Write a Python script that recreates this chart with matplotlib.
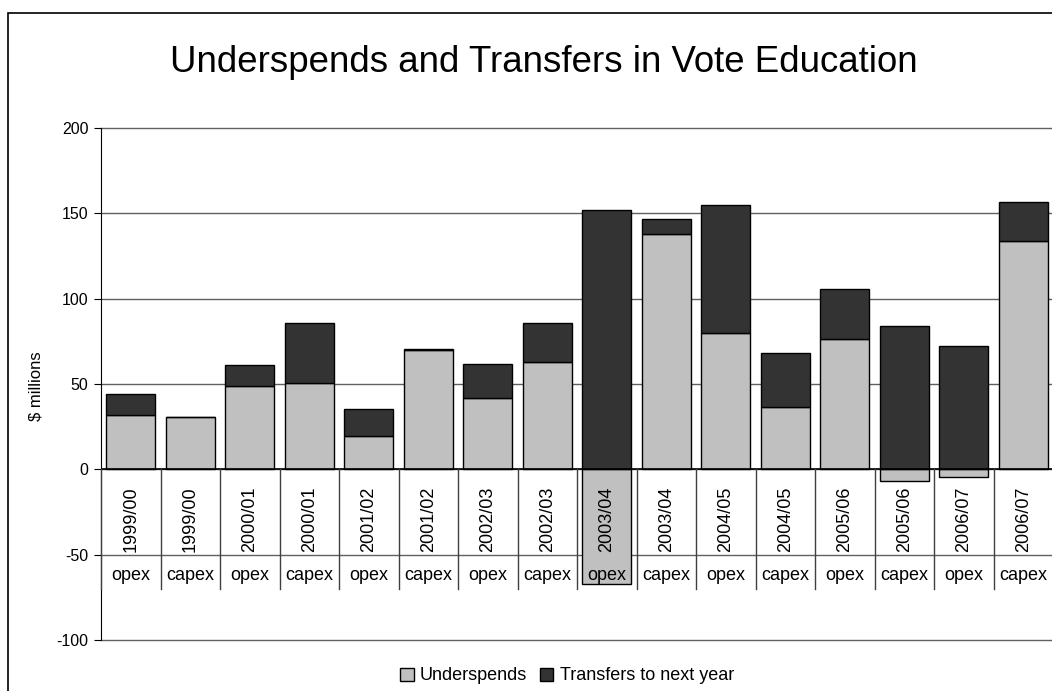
import numpy as np
import matplotlib
matplotlib.use("Agg")
import matplotlib.pyplot as plt
from matplotlib.patches import Rectangle, Patch

plt.rcParams["font.family"] = ["Liberation Sans", "DejaVu Sans"]
plt.rcParams["axes.unicode_minus"] = False

years = ["1999/00", "1999/00", "2000/01", "2000/01", "2001/02", "2001/02",
         "2002/03", "2002/03", "2003/04", "2003/04", "2004/05", "2004/05",
         "2005/06", "2005/06", "2006/07", "2006/07"]
kinds = ["opex", "capex"] * 8
underspends = [31.6, 30.8, 48.8, 50.7, 19.5, 69.8, 41.8, 62.8,
               -67.3, 137.7, 80.0, 36.5, 76.3, -6.6, -4.5, 134.0]
transfers = [12.7, 0.0, 12.1, 34.8, 15.6, 0.8, 20.2, 22.7,
             152.2, 9.2, 74.9, 31.6, 29.5, 83.9, 72.0, 22.7]

W, H = 1052, 691
fig = plt.figure(figsize=(W / 100, H / 100), dpi=100, facecolor="white")

# outer chart border (left/top visible, rest off-canvas)
fig.patches.append(Rectangle((8 / W, -0.1), 1.2, 1 - 13 / H + 0.1,
                             transform=fig.transFigure, fill=False,
                             ec="black", lw=1.2, zorder=0))

ax = fig.add_axes([101 / W, 1 - 640 / H, 952 / W, (640 - 128) / H])
x = np.arange(len(years))
us = np.array(underspends)
tr = np.array(transfers)

ax.bar(x, us, 0.83, color="#C0C0C0", edgecolor="black", lw=1, zorder=2)
ax.bar(x, tr, 0.83, bottom=np.maximum(us, 0), color="#333333",
       edgecolor="black", lw=1, zorder=2)

ax.set_xlim(-0.5, len(years) - 0.5)
ax.set_ylim(-100, 200)
ticks = np.arange(-100, 201, 50)
ax.set_yticks(ticks)
for t in ticks:
    ax.axhline(t, color="#606060", lw=1, zorder=1, clip_on=False)
ax.axhline(0, color="black", lw=1.2, zorder=3)
ax.set_xticks([])
for s in ["top", "right", "bottom"]:
    ax.spines[s].set_visible(False)
ax.spines["left"].set_color("black")
ax.tick_params(axis="y", direction="out", length=5, labelsize=11.5, pad=4)

# multi-level category labels
for i in range(len(years) + 1):
    ax.plot([i - 0.5, i - 0.5], [0, -70], color="#404040", lw=1, zorder=4,
            clip_on=False)
for i, (yr, kd) in enumerate(zip(years, kinds)):
    ax.text(i, -29, yr, rotation=90, ha="center", va="center",
            fontsize=13, zorder=5)
    ax.text(i, -62.5, kd, ha="center", va="center", fontsize=13, zorder=5)

fig.text(36 / W, 1 - 386 / H, "$ millions", rotation=90, ha="center",
         va="center", fontsize=12)
fig.text(544 / W, 1 - 63 / H, "Underspends and Transfers in Vote Education",
         ha="center", va="center", fontsize=26.4)

handles = [Patch(fc="#C0C0C0", ec="black", lw=1, label="Underspends"),
           Patch(fc="#333333", ec="black", lw=1, label="Transfers to next year")]
fig.legend(handles=handles, loc="center", bbox_to_anchor=(567 / W, 1 - 676 / H),
           ncol=2, frameon=False, fontsize=13, handlelength=0.75,
           handleheight=0.75, handletextpad=0.35, columnspacing=0.7)

fig.savefig("out.png", dpi=100, facecolor="white")
